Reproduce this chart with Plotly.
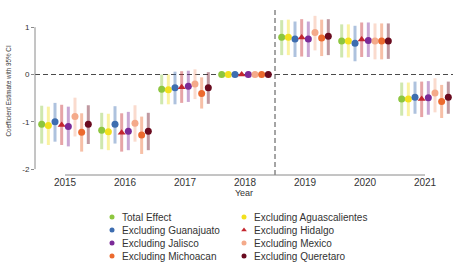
import plotly.graph_objects as go

# ---------------- data ----------------
years = [2015, 2016, 2017, 2018, 2019, 2020, 2021]
year_labels = ["2015", "2016", "2017", "2018", "2019", "2020", "2021"]

series_names = [
    "Total Effect",
    "Excluding Aguascalientes",
    "Excluding Guanajuato",
    "Excluding Hidalgo",
    "Excluding Jalisco",
    "Excluding Mexico",
    "Excluding Michoacan",
    "Excluding Queretaro",
]

est_total = [-1.05, -1.18, -0.31, 0.0, 0.79, 0.71, -0.52]
est_agu = [-1.08, -1.21, -0.32, 0.0, 0.79, 0.71, -0.52]
est_gua = [-1.00, -1.05, -0.28, 0.0, 0.75, 0.66, -0.48]
est_hid = [-1.07, -1.23, -0.27, 0.0, 0.78, 0.74, -0.52]
est_jal = [-1.10, -1.20, -0.25, 0.0, 0.75, 0.72, -0.49]
est_mex = [-0.89, -1.03, -0.20, 0.0, 0.89, 0.71, -0.39]
est_mic = [-1.22, -1.28, -0.40, 0.0, 0.77, 0.71, -0.57]
est_que = [-1.05, -1.20, -0.28, 0.0, 0.81, 0.71, -0.48]

lo_total = [-1.46, -1.58, -0.63, 0.0, 0.41, 0.36, -0.87]
lo_agu = [-1.49, -1.60, -0.63, 0.0, 0.41, 0.36, -0.88]
lo_gua = [-1.42, -1.46, -0.63, 0.0, 0.37, 0.28, -0.83]
lo_hid = [-1.49, -1.63, -0.60, 0.0, 0.38, 0.37, -0.90]
lo_jal = [-1.52, -1.60, -0.58, 0.0, 0.37, 0.37, -0.85]
lo_mex = [-1.31, -1.42, -0.52, 0.0, 0.51, 0.32, -0.80]
lo_mic = [-1.63, -1.68, -0.72, 0.0, 0.39, 0.32, -0.92]
lo_que = [-1.47, -1.60, -0.62, 0.0, 0.41, 0.33, -0.83]

hi_total = [-0.66, -0.81, 0.00, 0.0, 1.15, 1.06, -0.17]
hi_agu = [-0.68, -0.83, 0.00, 0.0, 1.16, 1.06, -0.17]
hi_gua = [-0.60, -0.67, 0.06, 0.0, 1.12, 1.03, -0.15]
hi_hid = [-0.64, -0.82, 0.07, 0.0, 1.17, 1.10, -0.15]
hi_jal = [-0.68, -0.79, 0.08, 0.0, 1.12, 1.10, -0.14]
hi_mex = [-0.49, -0.65, 0.11, 0.0, 1.24, 1.08, -0.08]
hi_mic = [-0.82, -0.89, -0.06, 0.0, 1.16, 1.08, -0.22]
hi_que = [-0.65, -0.81, 0.05, 0.0, 1.17, 1.08, -0.15]

estimates = [est_total, est_agu, est_gua, est_hid, est_jal, est_mex, est_mic, est_que]
lowers = [lo_total, lo_agu, lo_gua, lo_hid, lo_jal, lo_mex, lo_mic, lo_que]
uppers = [hi_total, hi_agu, hi_gua, hi_hid, hi_jal, hi_mex, hi_mic, hi_que]

y_ticks = [-2, -1, 0, 1]

# ---------------- style ----------------
colors = ["#8DC63F", "#F2E01E", "#3D6DB0", "#C4262E",
          "#7B2A98", "#F4AA8A", "#EC6A2E", "#6A0B1F"]
symbols = ["circle", "circle", "circle", "triangle-up",
           "circle", "circle", "circle", "circle"]


def rgba(hex_color, a):
    h = hex_color.lstrip("#")
    r, g, b = int(h[0:2], 16), int(h[2:4], 16), int(h[4:6], 16)
    return f"rgba({r},{g},{b},{a})"


W, H = 453, 266
left_px, top_px, bottom_px = 35, 7, 175
px_per_year = 60.0
x0 = 2014.5
x1 = x0 + (W - left_px) / px_per_year
dodge = 0.111
FONT = "Liberation Sans, Arial, sans-serif"

fig = go.Figure()

n = len(series_names)
for i, name in enumerate(series_names):
    xs = [yr + (i - (n - 1) / 2) * dodge for yr in years]
    est = estimates[i]
    plus = [u - e for u, e in zip(uppers[i], est)]
    minus = [e - l for e, l in zip(est, lowers[i])]
    fig.add_trace(go.Scatter(
        x=xs, y=est, mode="markers", name=name, showlegend=False,
        marker=dict(color=colors[i], size=7, symbol=symbols[i],
                    line=dict(width=0)),
        error_y=dict(type="data", array=plus, arrayminus=minus,
                     color=rgba(colors[i], 0.42), thickness=3, width=0),
        xaxis="x", yaxis="y",
    ))

# ---------------- custom legend (two columns) ----------------
leg_col_x = [112, 244]
leg_row_y0 = 217
leg_row_h = 13
for i, name in enumerate(series_names):
    col, row = i % 2, i // 2
    lx = leg_col_x[col]
    ly = leg_row_y0 + row * leg_row_h
    fig.add_trace(go.Scatter(
        x=[lx], y=[ly], mode="markers", showlegend=False, hoverinfo="skip",
        marker=dict(color=colors[i], size=5, symbol=symbols[i]),
        xaxis="x2", yaxis="y2",
    ))
    fig.add_annotation(x=lx + 8, y=ly, xref="x2", yref="y2", text=name,
                       showarrow=False, xanchor="left", yanchor="middle",
                       font=dict(family=FONT, size=10, color="#333333"))

axis_col = "#8a8a8a"
dash_col = "#4a4a4a"
shapes = [
    dict(type="line", xref="x domain", yref="y", x0=0, x1=0,
         y0=min(y_ticks), y1=max(y_ticks), line=dict(color=axis_col, width=1)),
    dict(type="line", xref="x", yref="y domain", x0=years[0], x1=years[-1],
         y0=0, y1=0, line=dict(color=axis_col, width=1)),
    dict(type="line", xref="x domain", yref="y", x0=0, x1=1, y0=0, y1=0,
         line=dict(color=dash_col, width=1.2, dash="5px,3px"), layer="below"),
    dict(type="line", xref="x", yref="y domain", x0=2018.5, x1=2018.5,
         y0=0, y1=1, line=dict(color=dash_col, width=1, dash="5px,3px"),
         layer="below"),
]

fig.update_layout(
    width=W, height=H,
    margin=dict(l=0, r=0, t=0, b=0),
    paper_bgcolor="white", plot_bgcolor="rgba(0,0,0,0)",
    showlegend=False,
    hovermode=False,
    shapes=shapes,
    xaxis=dict(
        domain=[left_px / W, 1], range=[x0, x1],
        tickvals=years, ticktext=year_labels, ticks="",
        showgrid=False, zeroline=False, showline=False,
        tickfont=dict(family=FONT, size=10, color="#333333"),
        title=dict(text="Year", font=dict(family=FONT, size=9, color="#333333"),
                   standoff=2),
        anchor="y",
    ),
    yaxis=dict(
        domain=[1 - bottom_px / H, 1 - top_px / H],
        range=[(74.5 - bottom_px) / 47.3, (74.5 - top_px) / 47.3],
        tickvals=y_ticks, ticktext=[str(v) for v in y_ticks],
        ticks="outside", ticklen=3, tickcolor=axis_col, tickwidth=1,
        showgrid=False, zeroline=False, showline=False,
        tickfont=dict(family=FONT, size=8, color="#333333"),
        title=dict(text="Coefficient Estimate with 95% CI",
                   font=dict(family=FONT, size=6.3, color="#333333"), standoff=10),
        anchor="x",
    ),
    xaxis2=dict(domain=[0, 1], range=[0, W], visible=False, anchor="y2",
                fixedrange=True),
    yaxis2=dict(domain=[0, 1], range=[H, 0], visible=False, anchor="x2",
                fixedrange=True),
)

fig.write_html("out.html",
               config={"displayModeBar": False, "staticPlot": True},
               post_script="document.body.style.margin='0';")
